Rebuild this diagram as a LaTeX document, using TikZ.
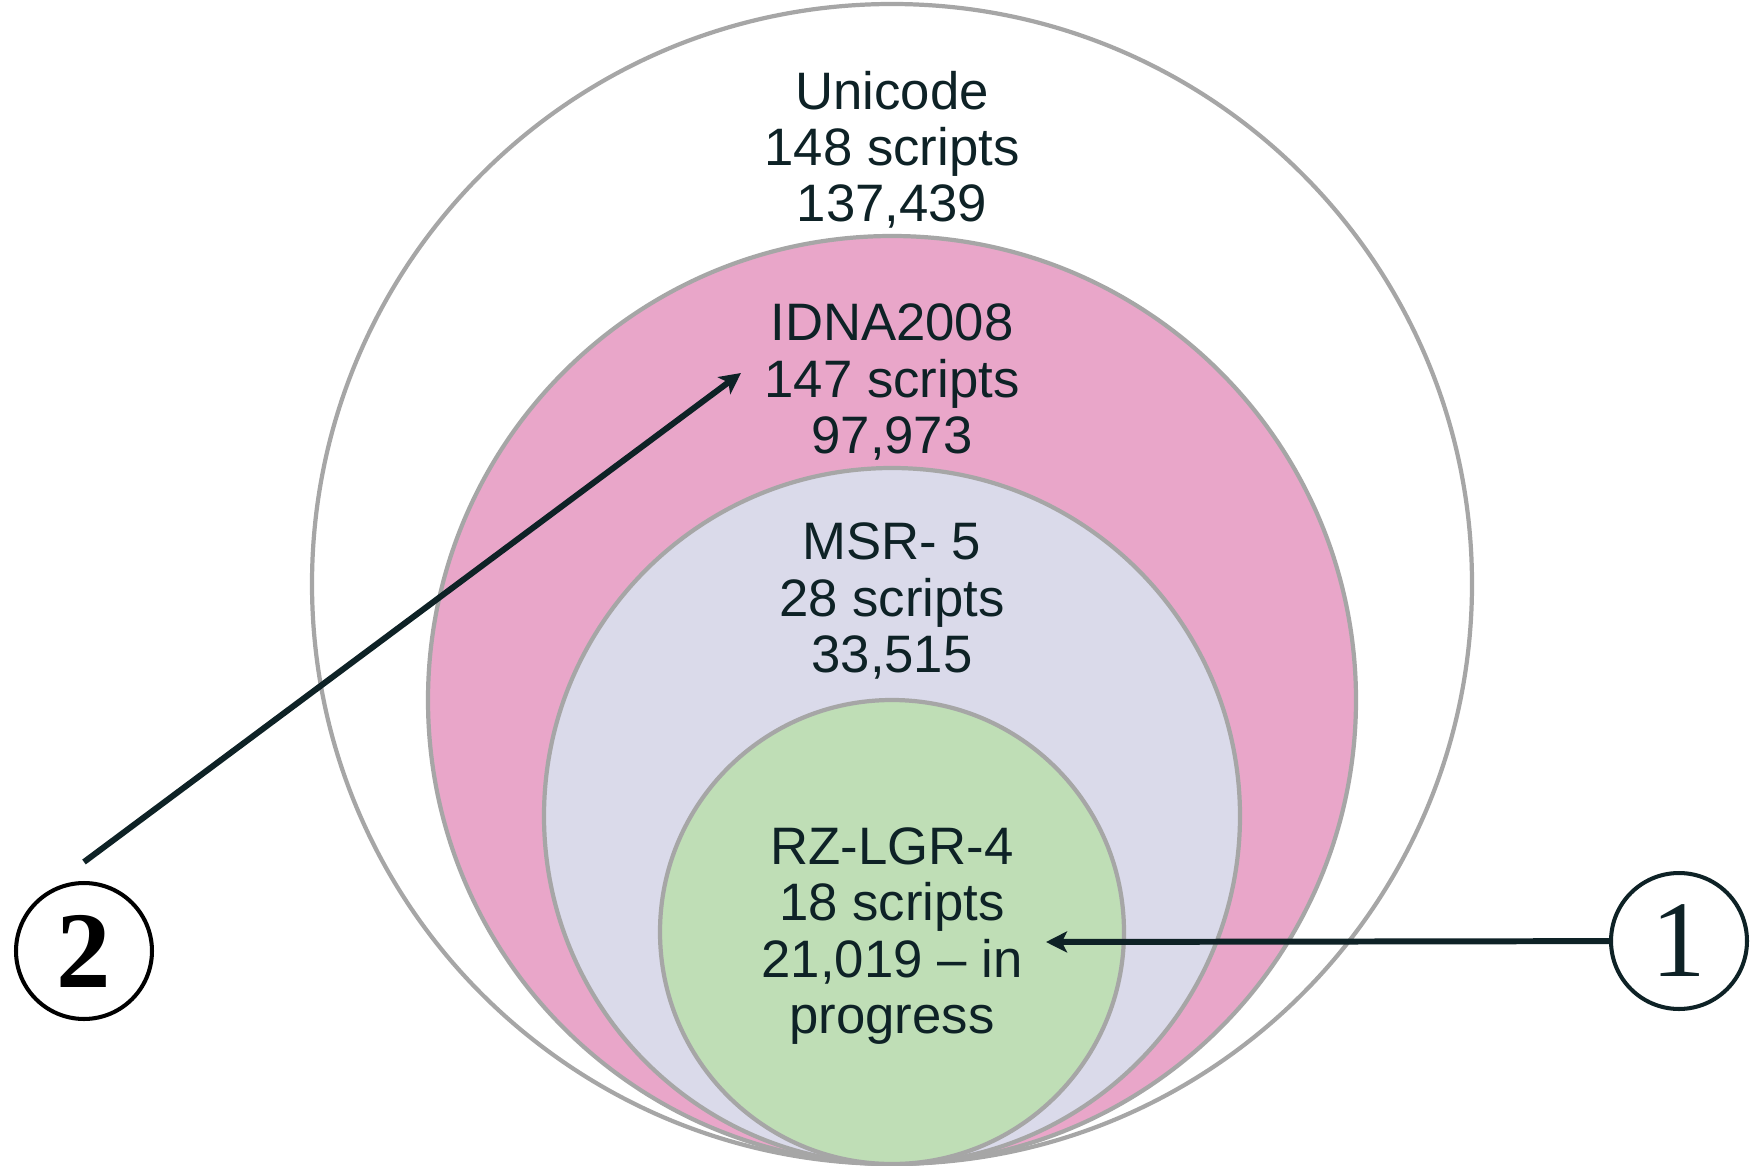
\documentclass[tikz,border=0pt]{standalone}
\usepackage{fontspec}
\setmainfont{Liberation Sans}
\newfontfamily\numfont{Liberation Serif}
\usepackage{tikz}
\usetikzlibrary{calc, positioning, arrows.meta}

\definecolor{ringgray}{HTML}{A6A6A6}
\definecolor{idnapink}{HTML}{E9A6C9}
\definecolor{msrlilac}{HTML}{DADAEA}
\definecolor{rzgreen}{HTML}{BFDEB6}
\definecolor{inkteal}{HTML}{0E2226}

\begin{document}
\begin{tikzpicture}
[
    x = 0.02cm, y = -0.02cm,
    every node/.style = {align=center, text=inkteal, inner sep=0pt},
    ring/.style = {draw=ringgray, line width=2.4pt},
    label/.style = {font=\fontsize{30}{32}\selectfont},
    marker/.style = {draw, circle, line width=2.3pt, minimum size=2.72cm,
                     font=\fontsize{62}{62}\selectfont\numfont},
    pointer/.style = {draw=inkteal, line width=3.4pt, -{Stealth[length=12pt, width=12pt, inset=3pt]}}
  ]
  \useasboundingbox (0,0) rectangle (1756,1166);

  % nested rings, all touching at the bottom
  \draw[ring, fill=white]    (892,584) circle (580);
  \draw[ring, fill=idnapink] (892,700) circle (464);
  \draw[ring, fill=msrlilac] (892,816) circle (348);
  \draw[ring, fill=rzgreen]  (892,932) circle (232);

  \node[label] (unicode) at (892,150) {Unicode\\148 scripts\\137,439};
  \node[label] (idna)    at (892,382) {IDNA2008\\147 scripts\\97,973};
  \node[label] (msr)     at (892,601) {MSR- 5\\28 scripts\\33,515};
  \node[label] (rzlgr)   at (892,936) {RZ-LGR-4\\18 scripts\\21,019 -- in\\progress};

  \node[marker, draw=inkteal] (one) at (1679,941) {1};
  \node[marker, draw=black, text=black] (two) at (84,951) {\bfseries 2};

  \coordinate (tipone) at (1046,942);
  \coordinate (tiptwo) at (741,373);
  \coordinate (tailtwo) at (84,862);

  \draw[pointer] (one) -- (tipone);
  \draw[pointer] (tailtwo) -- (tiptwo);
\end{tikzpicture}
\end{document}
